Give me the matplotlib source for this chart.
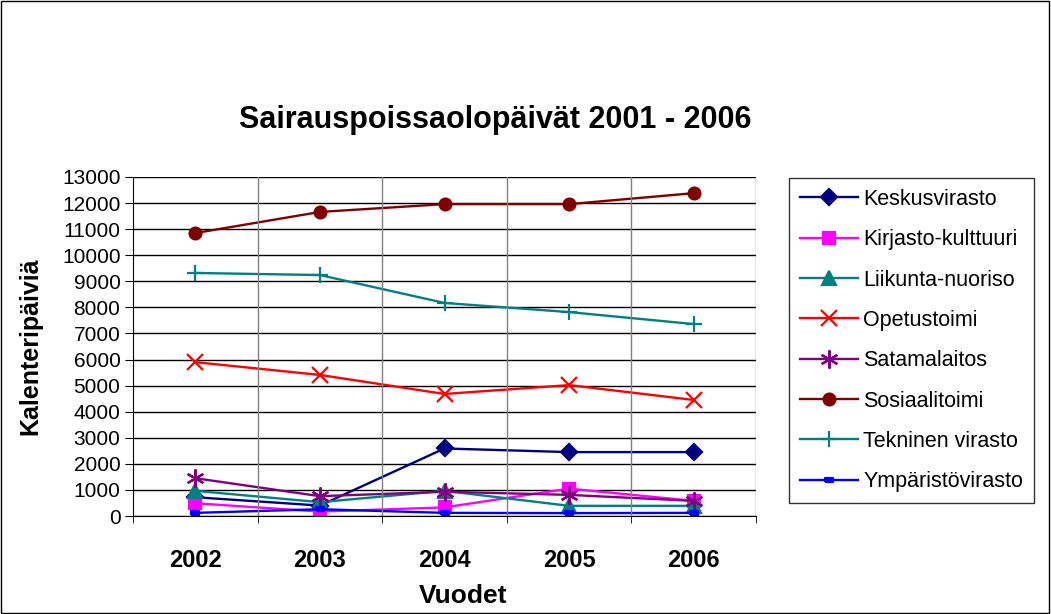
import matplotlib
matplotlib.use("Agg")
import matplotlib.pyplot as plt
from matplotlib.patches import Rectangle

years = ["2002", "2003", "2004", "2005", "2006"]
keskusvirasto = [720, 400, 2590, 2450, 2450]
kirjasto = [490, 170, 330, 1050, 580]
liikunta = [965, 530, 965, 390, 390]
opetustoimi = [5900, 5410, 4680, 5020, 4450]
satamalaitos = [1450, 760, 930, 810, 580]
sosiaalitoimi = [10850, 11660, 11960, 11960, 12380]
tekninen = [9320, 9240, 8170, 7820, 7360]
ymparisto = [120, 260, 120, 110, 120]

rect_marker = [(-1, -0.45), (1, -0.45), (1, 0.45), (-1, 0.45), (-1, -0.45)]

series = [
    ("Keskusvirasto", keskusvirasto, "#000080", "D", 8.5),
    ("Kirjasto-kulttuuri", kirjasto, "#FF00FF", "s", 8.5),
    ("Liikunta-nuoriso", liikunta, "#008080", "^", 10),
    ("Opetustoimi", opetustoimi, "#FF0000", "x", 11),
    ("Satamalaitos", satamalaitos, "#800080", (6, 2, 0), 13),
    ("Sosiaalitoimi", sosiaalitoimi, "#800000", "o", 8.5),
    ("Tekninen virasto", tekninen, "#008080", "+", 11),
    ("Ympäristövirasto", ymparisto, "#0000FF", rect_marker, 6),
]

plt.rcParams["font.family"] = ["Liberation Sans", "DejaVu Sans"]
fig = plt.figure(figsize=(10.51, 6.14), dpi=100)
ax = fig.add_axes([133 / 1051, 98 / 614, 623 / 1051, 339 / 614])

x = list(range(len(years)))
for name, vals, col, mk, ms in series:
    ax.plot(x, vals, color=col, marker=mk, markersize=ms, linewidth=1.7,
            markeredgewidth=1.6, label=name)

ax.set_xlim(-0.5, 4.5)
ax.set_ylim(0, 13000)
ax.set_yticks(range(0, 13001, 1000))
ax.set_xticks(x)
ax.set_xticklabels(years, fontsize=17, fontweight="bold")
ax.set_xticks([i - 0.5 for i in range(6)], minor=True)
ax.tick_params(axis="x", which="major", length=0, pad=24)
ax.tick_params(axis="x", which="minor", length=5, direction="out")
ax.tick_params(axis="y", labelsize=15, length=6, direction="out", pad=3)
ax.grid(axis="y", color="black", linewidth=1)
for b in [0.5, 1.5, 2.5, 3.5, 4.5]:
    ax.axvline(b, color="#808080", linewidth=1)
ax.set_axisbelow(True)
ax.spines["top"].set_visible(False)
ax.spines["right"].set_visible(False)

fig.text(495 / 1051, 1 - 120 / 614, "Sairauspoissaolopäivät 2001 - 2006",
         ha="center", va="center", fontsize=22, fontweight="bold")
fig.text(30 / 1051, 1 - 346 / 614, "Kalenteripäiviä", rotation=90,
         ha="center", va="center", fontsize=18, fontweight="bold")
fig.text(463 / 1051, 1 - 596 / 614, "Vuodet",
         ha="center", va="center", fontsize=19, fontweight="bold")

leg = ax.legend(loc="upper left", bbox_to_anchor=(789 / 1051, 1 - 178 / 614),
                bbox_transform=fig.transFigure, fontsize=15.5, labelspacing=0.9,
                handlelength=2.7, handletextpad=0.25, frameon=True, fancybox=False,
                borderpad=0.5, borderaxespad=0)
leg.get_frame().set_edgecolor("black")
leg.get_frame().set_linewidth(1)

fig.patches.append(Rectangle((0.001, 0.001), 0.997, 0.997, transform=fig.transFigure,
                             fill=False, edgecolor="black", linewidth=1))

fig.savefig("out.png", dpi=100)
